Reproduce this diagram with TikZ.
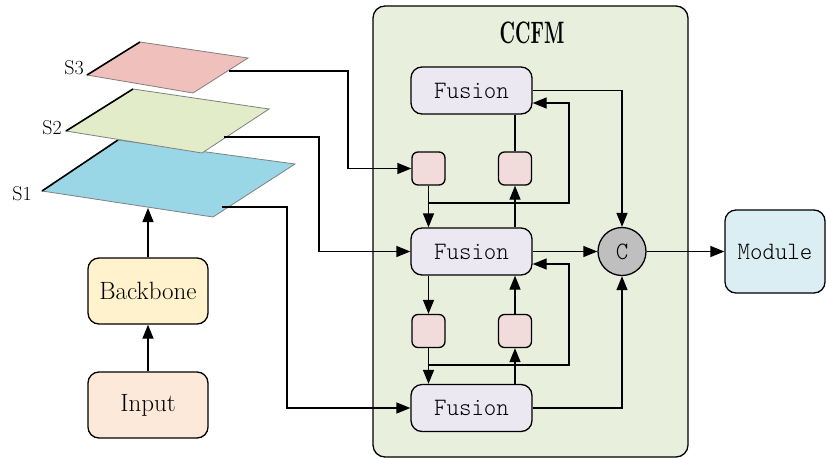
\documentclass[tikz,border=0pt]{standalone}
\usepackage{fontspec}
\usetikzlibrary{arrows.meta}
\newfontfamily\monolab[FakeStretch=0.95]{lmmonolt10-regular.otf}
\newfontfamily\titlelab[FakeStretch=0.6]{lmroman10-bold.otf}

\definecolor{ccfmbg}{HTML}{E8EFDC}
\definecolor{fusionfill}{HTML}{ECE8F2}
\definecolor{smallfill}{HTML}{F2DCDB}
\definecolor{cfill}{HTML}{BFBFBF}
\definecolor{modfill}{HTML}{DBEEF4}
\definecolor{backfill}{HTML}{FFF2CC}
\definecolor{inputfill}{HTML}{FCE9DA}
\definecolor{sthree}{HTML}{F0C0BC}
\definecolor{stwo}{HTML}{E2ECC8}
\definecolor{sone}{HTML}{99D6E6}
\definecolor{edgegray}{HTML}{808080}

\tikzset{
  boxbase/.style={draw=black, line width=1.3pt, rounded corners=11pt, inner sep=0pt},
  fusionbox/.style={boxbase, fill=fusionfill, minimum width=121pt, minimum height=47pt,
    font=\monolab\fontsize{25}{25}\selectfont},
  smallbox/.style={draw=black, line width=1.3pt, rounded corners=6pt, fill=smallfill,
    minimum width=33pt, minimum height=33pt, inner sep=0pt},
  sidebox/.style={boxbase, minimum width=120pt, minimum height=66pt,
    font=\fontsize{25}{25}\selectfont},
  conn/.style={line width=1.3pt, draw=black},
  arr/.style={conn, -{Triangle[length=14pt,width=11pt]}},
  slabel/.style={font=\fontsize{20}{20}\selectfont, inner sep=0pt},
}

\begin{document}
\begin{tikzpicture}[x=1pt,y=-1pt]
\useasboundingbox (0,0) rectangle (826,458);

% CCFM container
\draw[line width=1.3pt, fill=ccfmbg, rounded corners=12pt] (373,6) rectangle (688,457);
\node[font=\titlelab\fontsize{31}{31}\selectfont] (title) at (532,33) {CCFM};

% stacked feature maps
\filldraw[fill=sone, draw=edgegray, line width=0.8pt] (42,191) -- (118,140) -- (295,164) -- (213,217) -- cycle;
\draw[line width=1.6pt] (42,191) -- (118,140);
\filldraw[fill=stwo, draw=edgegray, line width=0.8pt] (66,131) -- (133,89) -- (269,109) -- (202,153) -- cycle;
\draw[line width=1.6pt] (66,131) -- (133,89);
\filldraw[fill=sthree, draw=edgegray, line width=0.8pt] (87,75) -- (140,42) -- (248,58) -- (193,93) -- cycle;
\draw[line width=1.6pt] (87,75) -- (140,42);

\node[slabel] (l3) at (74,68) {S3};
\node[slabel] (l2) at (52,128) {S2};
\node[slabel] (l1) at (22,194) {S1};

\coordinate (s3) at (229,71);
\coordinate (s2) at (224,137);
\coordinate (s1) at (222,207);
\coordinate (s1in) at (148,208);

% left column
\node[sidebox, fill=inputfill] (inp) at (148,405) {Input};
\node[sidebox, fill=backfill] (bb) at (148,291) {Backbone};

% CCFM internals
\node[fusionbox] (tf) at (471.5,90.5) {Fusion};
\node[fusionbox] (mf) at (471.5,251.5) {Fusion};
\node[fusionbox] (bf) at (471.5,408) {Fusion};
\node[smallbox] (p1) at (428.5,168.5) {};
\node[smallbox] (p2) at (515,168.5) {};
\node[smallbox] (p3) at (428.5,331) {};
\node[smallbox] (p4) at (515,331) {};
\node[circle, draw=black, line width=1.3pt, fill=cfill, minimum size=48pt, inner sep=0pt,
  font=\monolab\fontsize{25}{25}\selectfont] (c) at (622,251.5) {C};

% output
\node[boxbase, fill=modfill, minimum width=100pt, minimum height=83pt,
  font=\monolab\fontsize{25}{25}\selectfont] (mod) at (775,251.5) {Module};

% backbone flow
\draw[arr] (inp.north) -- (bb.south);
\draw[arr] (bb.north) -- (s1in);

% feature map inputs
\draw[arr] (s3) -- (348,71) -- (348,168.5) -- (p1.west);
\draw[arr] (s2) -- (319,137) -- (319,251.5) -- (mf.west);
\draw[arr] (s1) -- (287,207) -- (287,408) -- (bf.west);

% top stage
\draw[arr] (p1.south) -- (p1.south |- mf.north);
\draw[arr] (428.5,203) -- (569,203) -- (569,103) -- (tf.east |- 0,103);
\draw[arr] (p2.south |- mf.north) -- (p2.south);
\draw[conn] (p2.north) -- (p2.north |- tf.south);
\draw[arr] (tf.east) -- (622,90.5) -- (c.north);

% bottom stage
\draw[arr] (p3.north |- mf.south) -- (p3.north);
\draw[arr] (p3.south) -- (p3.south |- bf.north);
\draw[arr] (428.5,365) -- (569,365) -- (569,264) -- (mf.east |- 0,264);
\draw[arr] (p4.south |- bf.north) -- (p4.south);
\draw[arr] (p4.north) -- (p4.north |- mf.south);
\draw[arr] (bf.east) -- (622,408) -- (c.south);

% merge and output
\draw[arr] (mf.east) -- (c.west);
\draw[arr] (c.east) -- (mod.west);
\end{tikzpicture}
\end{document}
